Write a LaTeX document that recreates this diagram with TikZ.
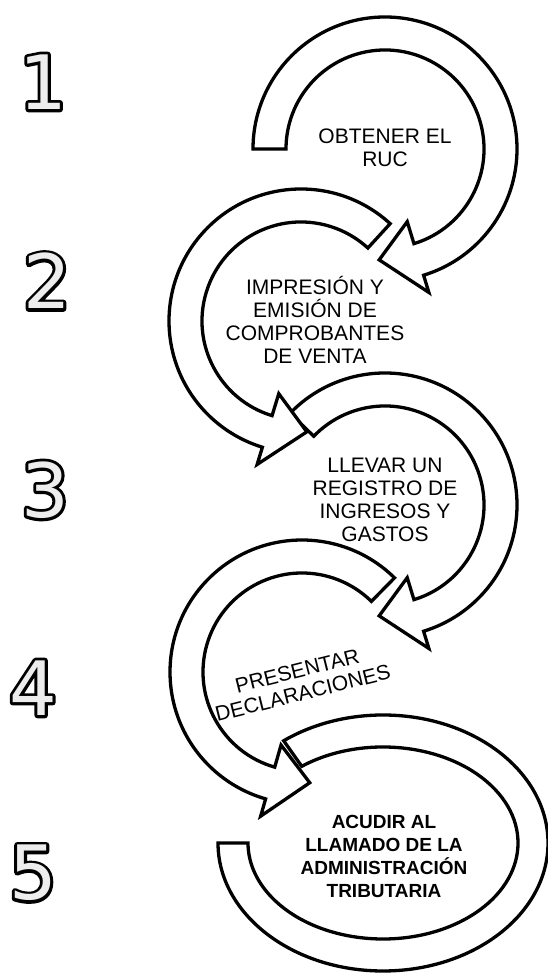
\documentclass[tikz,border=0pt]{standalone}
\usepackage{fontspec}
\setmainfont{Liberation Sans}
\newfontfamily\digitfont{DejaVu Sans}
\usepackage{xcolor}
\usepackage{tikz}
\usetikzlibrary{positioning, calc}
% stroked digit (text render mode 2) for the dark rim under each number
\newcommand{\rimdigit}[1]{\special{pdf:literal direct 2 Tr 6 w 1 j}#1\special{pdf:literal direct 0 Tr}}
\tikzset{band/.style={draw=black, fill=white, line width=3.3pt, line join=miter},
    steptext/.style={align=center, font=\fontsize{21}{23}\selectfont, inner sep=0pt},
    steprim/.style={font=\fontsize{75}{75}\digitfont, text=black, inner sep=0pt},
    steplabel/.style={font=\fontsize{75}{75}\digitfont, text=black!7, inner sep=0pt}}

\begin{document}
\begin{tikzpicture}[x=1pt, y=1pt]
                \useasboundingbox (0,0) rectangle (548,974);

                \coordinate (c1) at (385,825);
                \coordinate (c2) at (301,653);
                \coordinate (c3) at (385,469);
                \coordinate (c4) at (302,302);
                \coordinate (c5) at (383,131);

                % clockwise ones
                \draw[band, shift={(c1)}] (180:132) arc[start angle=180, end angle=-73, radius=132]
                    -- (-73:150) -- (-93:111) -- (-73:76) -- (-73:99)
                    arc[start angle=-73, end angle=180, radius=99] -- cycle;
                \draw[band, shift={(c3)}] (136:132) arc[start angle=136, end angle=-73, radius=132]
                    -- (-73:150) -- (-93:111) -- (-73:76) -- (-73:99)
                    arc[start angle=-73, end angle=136, radius=99] -- cycle;

                % counterclockwise ones
                \draw[band, shift={(c2)}] (47.5:132) arc[start angle=47.5, end angle=253, radius=132]
                    -- (253:150) -- (273:111) -- (253:76) -- (253:99)
                    arc[start angle=253, end angle=47.5, radius=99] -- cycle;
                \draw[band, shift={(c4)}] (45.5:132) arc[start angle=45.5, end angle=254, radius=132]
                    -- (254:150) -- (274:111) -- (254:76) -- (254:99)
                    arc[start angle=254, end angle=45.5, radius=99] -- cycle;

                % last one, no head
                \draw[band, shift={(c5)}] (180:165 and 128) arc[start angle=180, end angle=487, x radius=165, y radius=128]
                    -- (127:135 and 96) arc[start angle=127, end angle=-180, x radius=135, y radius=96] -- cycle;

                \node[steptext] (s1) at (385,826) {OBTENER EL\\RUC};
                \node[steptext] (s2) at (315,654) {IMPRESIÓN Y\\EMISIÓN DE\\COMPROBANTES\\DE VENTA};
                \node[steptext] (s3) at (385,474) {LLEVAR UN\\REGISTRO DE\\INGRESOS Y\\GASTOS};
                \node[steptext, rotate=14] (s4) at (300,292) {PRESENTAR\\DECLARACIONES};
                \node[steptext, font=\fontsize{19}{23}\selectfont\bfseries] (s5) at (384,118) {ACUDIR AL\\LLAMADO DE LA\\ADMINISTRACIÓN\\TRIBUTARIA};

                % step numbers
                \foreach \d/\px/\py in {1/43/892, 2/47/693, 3/45/484, 4/33/286, 5/33/101} {
                    \node[steprim] (r\d) at (\px,\py) {\rimdigit{\d}};
                    \node[steplabel] (n\d) at (r\d) {\d};
                }

\end{tikzpicture}
\end{document}
